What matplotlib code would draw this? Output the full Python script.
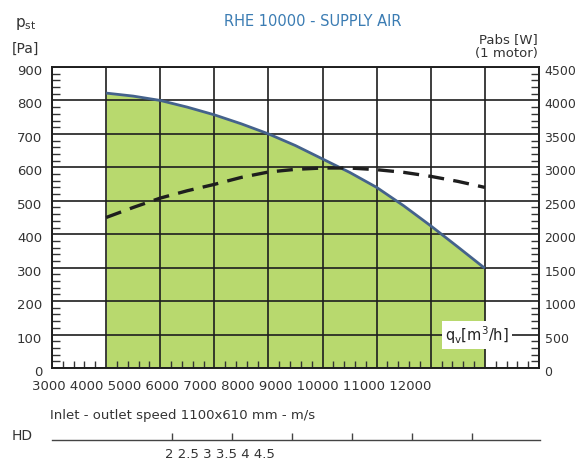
import matplotlib
matplotlib.use("Agg")
import matplotlib.pyplot as plt
from matplotlib.ticker import MultipleLocator, NullFormatter, FixedLocator
import matplotlib.transforms as mtrans

# ---- data ----
flow = [4000, 4500, 5000, 5500, 6000, 6500, 7000, 7500, 8000, 8500, 9000, 9500, 10000, 10500, 11000]
pressure = [822, 813, 800, 780, 757, 730, 700, 665, 625, 585, 540, 485, 425, 362, 298]
power = [2250, 2400, 2540, 2650, 2745, 2850, 2930, 2970, 2990, 2990, 2965, 2925, 2865, 2790, 2700]
x_tick_text = ["3000", "4000", "5000", "6000", "7000", "8000", "9000", "10000", "11000", "12000"]
hd_tick_text = ["2", "2.5", "3", "3.5", "4", "4.5"]
hd_tick_px = [172, 232, 292, 352, 412, 472]

W, H = 579, 462
plt.rcParams['font.family'] = ['DejaVu Sans']
fig = plt.figure(figsize=(W / 100, H / 100), dpi=100)

L, R, T, B = 52, 539, 67, 368
ax = fig.add_axes([L / W, 1 - B / H, (R - L) / W, (B - T) / H])
ax.set_xlim(3000, 12000)
ax.set_ylim(0, 900)

fill_col = '#b8d96e'
ax.fill_between(flow, pressure, 0, color=fill_col, linewidth=0, zorder=1)
ax.plot(flow, pressure, color='#44628c', lw=2.0, zorder=3, solid_capstyle='butt')

ax.xaxis.set_major_locator(MultipleLocator(1000))
ax.xaxis.set_minor_locator(MultipleLocator(200))
ax.yaxis.set_major_locator(MultipleLocator(100))
ax.yaxis.set_minor_locator(MultipleLocator(20))
ax.xaxis.set_major_formatter(NullFormatter())
ax.grid(True, which='major', color='#1e1e1e', lw=1.2)
ax.tick_params(axis='x', which='both', direction='in', bottom=True, top=False, labelbottom=False)
ax.tick_params(axis='x', which='major', length=0)
ax.tick_params(axis='x', which='minor', length=5, width=1, color='#333333')
ax.tick_params(axis='y', which='major', length=0, pad=7, labelsize=9.5, labelcolor='#333333')
ax.tick_params(axis='y', which='minor', direction='in', length=6, width=1, color='#333333')
for s in ax.spines.values():
    s.set_color('#1e1e1e')
    s.set_linewidth(1.2)

off = mtrans.ScaledTranslation(0, -3 / 100, fig.dpi_scale_trans)
for lbl in ax.get_yticklabels():
    lbl.set_transform(lbl.get_transform() + off)

ax2 = ax.twinx()
ax2.set_ylim(0, 4500)
ax2.yaxis.set_major_locator(MultipleLocator(500))
ax2.yaxis.set_minor_locator(MultipleLocator(100))
ax2.tick_params(axis='y', which='major', length=0, pad=4, labelsize=9, labelcolor='#333333')
ax2.tick_params(axis='y', which='minor', direction='in', length=6, width=1, color='#333333')
ax2.plot(flow, power, color='#1e1e1e', lw=2.4, dashes=(4.8, 2.8), zorder=3)
for s in ax2.spines.values():
    s.set_color('#1e1e1e')
    s.set_linewidth(1.2)
off2 = mtrans.ScaledTranslation(0, -3 / 100, fig.dpi_scale_trans)
for lbl in ax2.get_yticklabels():
    lbl.set_transform(lbl.get_transform() + off2)

# q_v label box
ax.text(0.938, 0.11, r'q$_\mathregular{v}$[m$^\mathregular{3}$/h]', transform=ax.transAxes,
        ha='right', va='center', fontsize=10.5, color='#222222', zorder=6,
        bbox=dict(facecolor='white', edgecolor='none', pad=2.5))

# x tick labels (as drawn in the reference: compressed row)
fig.text(32 / W, 1 - 386 / H, " ".join(x_tick_text), ha='left', va='center',
         fontsize=9.5, color='#333333')

# titles
fig.text(313 / W, 1 - 21 / H, "RHE 10000 - SUPPLY AIR", ha='center', va='center',
         fontsize=10.5, color='#3b7cb3')
fig.text(15 / W, 1 - 24 / H, r'p$_\mathregular{st}$', ha='left', va='center', fontsize=11, color='#333333')
fig.text(12 / W, 1 - 49 / H, "[Pa]", ha='left', va='center', fontsize=10, color='#333333')
fig.text(538 / W, 1 - 40 / H, "Pabs [W]", ha='right', va='center', fontsize=9.5, color='#333333')
fig.text(538 / W, 1 - 54 / H, "(1 motor)", ha='right', va='center', fontsize=9.5, color='#333333')

# bottom HD scale
fig.text(50 / W, 1 - 415 / H, "Inlet - outlet speed 1100x610 mm - m/s", ha='left', va='center',
         fontsize=9.5, color='#333333')
fig.text(12 / W, 1 - 436 / H, "HD", ha='left', va='center', fontsize=10, color='#333333')
axh = fig.add_axes([52 / W, 1 - 440 / H, (540 - 52) / W, 10 / H])
axh.set_xlim(52, 540)
axh.set_ylim(0, 1)
axh.patch.set_visible(False)
for k in ['top', 'left', 'right']:
    axh.spines[k].set_visible(False)
axh.spines['bottom'].set_color('#444444')
axh.spines['bottom'].set_linewidth(1.0)
axh.xaxis.set_major_locator(FixedLocator(hd_tick_px))
axh.tick_params(axis='x', direction='in', length=5, width=1, color='#444444', labelbottom=False)
axh.set_yticks([])
fig.text(165 / W, 1 - 455 / H, " ".join(hd_tick_text), ha='left', va='center',
         fontsize=9.5, color='#333333')

fig.savefig("out.png", dpi=100)
